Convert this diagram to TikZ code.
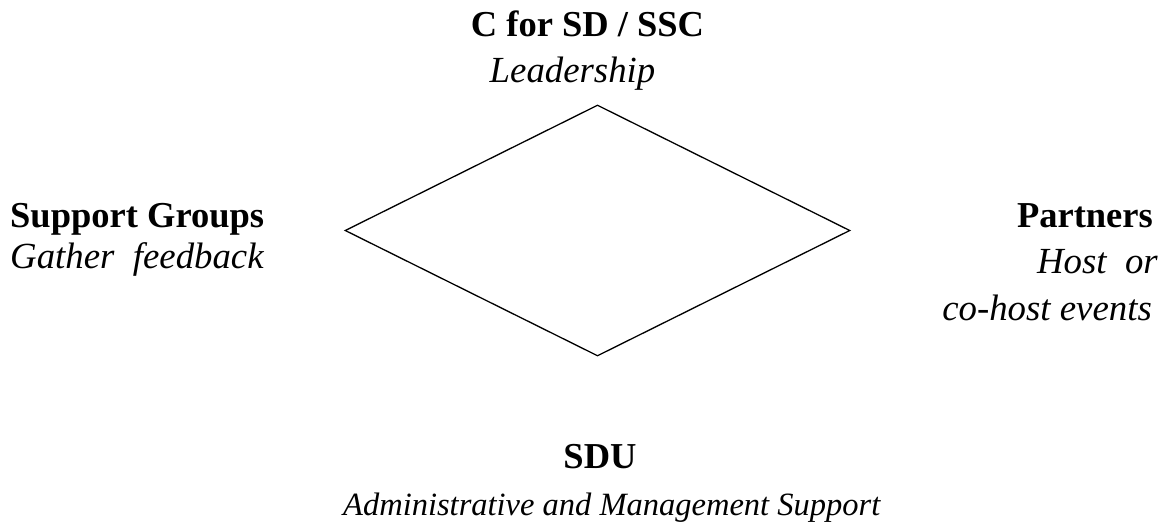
\documentclass[tikz,border=0pt]{standalone}
\usepackage{fontspec}
\setmainfont{Liberation Serif}
\usepackage{tikz}
\usetikzlibrary{shapes.geometric}
\usetikzlibrary{positioning}

\tikzset{
	party/.style={font=\fontsize{36.5}{42}\selectfont\bfseries, inner sep=0pt},
	task/.style={font=\fontsize{36.8}{42}\selectfont\itshape, inner sep=0pt},
}

\begin{document}
\begin{tikzpicture}[x=1pt,y=-1pt]
	\useasboundingbox (0,0) rectangle (1167,522);
	% the hub between the four parties
	\node[draw, diamond, line width=1.3pt, inner sep=0pt, minimum width=505pt, minimum height=251pt] (hub) at (597.5,230.5) {};
	% top
	\node[party, anchor=base] (csd) at (587.5,36) {C for SD / SSC};
	\node[task, anchor=base] (lead) at (572.5,82) {Leadership};
	% left
	\node[party, anchor=base west] (sg) at (10,227) {Support Groups};
	\node[task, anchor=base west] (gf) at (10,268) {Gather\ \ feedback};
	% right
	\node[party, anchor=base east] (pt) at (1153,227) {Partners};
	\node[task, anchor=base east] (ho) at (1158,273) {Host\ \ or};
	\node[task, anchor=base east] (ce) at (1152,320) {co-host events};
	% bottom
	\node[party, anchor=base] (sdu) at (600,468) {SDU};
	\node[task, anchor=base west, font=\fontsize{32.5}{38}\selectfont\itshape] (ams) at (343,515) {Administrative and Management Support};
\end{tikzpicture}
\end{document}
